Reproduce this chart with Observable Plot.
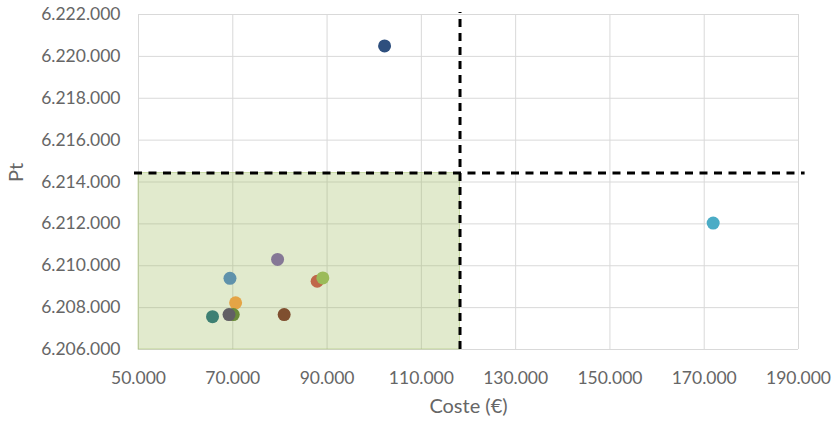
<!DOCTYPE html>
<html>
<head>
<meta charset="utf-8">
<script src="https://cdn.jsdelivr.net/npm/d3@7"></script>
<script src="https://cdn.jsdelivr.net/npm/@observablehq/plot@0.6"></script>
<style>
  html, body { margin: 0; padding: 0; background: #fff; }
</style>
</head>
<body>
<div id="chart"></div>
<script>
// Data
const coste = [102200, 171900, 79500, 69400, 87900, 89100, 70600, 65700, 70100, 69200, 80900];
const pt    = [6220500, 6212040, 6210300, 6209400, 6209260, 6209420, 6208230, 6207570, 6207670, 6207670, 6207670];
const colores = ["#2e4f7e", "#4bacc6", "#857896", "#5f92ab", "#c0674a", "#9bbb59", "#e4a446", "#3e8073", "#6a8b3a", "#615f64", "#7f4f2f"];

const umbralCoste = 118200;
const umbralPt = 6214430;

const xTicks = [50000, 70000, 90000, 110000, 130000, 150000, 170000, 190000];
const yTicks = [6206000, 6208000, 6210000, 6212000, 6214000, 6216000, 6218000, 6220000, 6222000];

const tituloX = "Coste (€)";
const tituloY = "Pt";

const puntos = coste.map((c, i) => ({coste: c, pt: pt[i], color: colores[i]}));

const locale = d3.formatLocale({decimal: ",", thousands: ".", grouping: [3], currency: ["", "€"]});
const fmt = locale.format(",.0f");

const chart = Plot.plot({
  width: 835,
  height: 425,
  marginLeft: 138,
  marginRight: 37,
  marginTop: 14,
  marginBottom: 76,
  style: {fontFamily: "Lato, 'Open Sans', sans-serif", fontSize: "17.5px", color: "#666", background: "#fff"},
  x: {domain: [50000, 190000]},
  y: {domain: [6206000, 6222000]},
  color: {type: "identity"},
  marks: [
    Plot.gridX(xTicks, {stroke: "#d9d9d9", strokeOpacity: 1, strokeWidth: 1}),
    Plot.gridY(yTicks, {stroke: "#d9d9d9", strokeOpacity: 1, strokeWidth: 1}),
    Plot.rect([{x1: 50000, x2: umbralCoste, y1: 6206000, y2: umbralPt}], {
      x1: "x1", x2: "x2", y1: "y1", y2: "y2",
      fill: "#9bbb59", fillOpacity: 0.3, stroke: "#9bbb59", strokeOpacity: 0.45, strokeWidth: 1
    }),
    Plot.axisX(xTicks, {tickSize: 0, tickPadding: 22, tickFormat: fmt, label: null}),
    Plot.axisY(yTicks, {tickSize: 0, tickPadding: 18, tickFormat: fmt, label: null}),
    Plot.text([tituloX], {frameAnchor: "bottom", dy: 63, fontSize: 20, fill: "#666", text: d => d}),
    Plot.text([tituloY], {frameAnchor: "left", dx: -122, rotate: -90, fontSize: 20, fill: "#666", text: d => d}),
    Plot.dot(puntos, {x: "coste", y: "pt", fill: "color", r: 6.5, stroke: null}),
    Plot.ruleX([umbralCoste], {y1: 6206000, y2: 6222100, stroke: "#000", strokeWidth: 3, strokeDasharray: "8,6"}),
    Plot.ruleY([umbralPt], {x1: 49150, x2: 191400, stroke: "#000", strokeWidth: 3, strokeDasharray: "8,6.5"})
  ]
});
document.getElementById("chart").appendChild(chart);
</script>
</body>
</html>
